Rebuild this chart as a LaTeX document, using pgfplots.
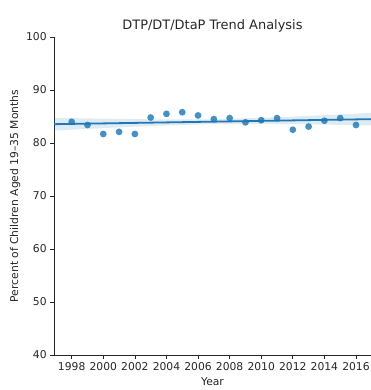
\documentclass[border=0pt]{standalone}
\usepackage{pgfplots}
\pgfplotsset{compat=1.18}
\usepgfplotslibrary{fillbetween}
\usepackage{fontspec}
\setmainfont{DejaVu Sans}
\definecolor{sb}{HTML}{1F77B4}
\begin{document}
\begin{tikzpicture}
\begin{axis}[
  name=ax,
  scale only axis,
  width=317bp, height=318bp,
  xmin=1996.88, xmax=2016.95,
  ymin=40, ymax=100,
  axis lines=left,
  axis line style={-, line width=0.7pt, black!85},
  xtick={1998,2000,...,2016},
  ytick={40,50,...,100},
  tick align=outside,
  tick style={black!85, line width=0.7pt},
  major tick length=3.8bp,
  tick label style={font=\fontsize{10.8}{12}\selectfont, text=black!85},
  /pgf/number format/assume math mode=true,
  x tick label style={/pgf/number format/.cd,set thousands separator={}},
  xlabel={Year},
  ylabel={Percent of Children Aged 19–35 Months},
  label style={font=\fontsize{10.8}{12}\selectfont, text=black!85},
  xlabel style={yshift=0bp},
  ylabel style={yshift=-1bp},
  title={DTP/DT/DtaP Trend Analysis},
  title style={font=\fontsize{13}{15}\selectfont, text=black!85, yshift=-5bp},
  clip=true,
]
\coordinate (sw) at (rel axis cs:0,0);
\coordinate (ne) at (rel axis cs:1,1);
\addplot[name path=upper, draw=none, forget plot] coordinates {
(1996.88,84.75) (2000,84.59) (2003,84.47) (2007,84.48) (2011,84.85) (2014,85.25) (2016.95,85.68)};
\addplot[name path=lower, draw=none, forget plot] coordinates {
(1996.88,82.35) (2000,82.81) (2003,83.21) (2007,83.58) (2011,83.59) (2014,83.47) (2016.95,83.32)};
\addplot[fill=sb, fill opacity=0.15, draw=none] fill between[of=upper and lower];
\addplot[only marks, color=sb, mark=*, mark size=3.4bp, mark options={solid, draw opacity=0, fill=sb, fill opacity=0.82}] coordinates {
(1998,84.0) (1999,83.4) (2000,81.7) (2001,82.1) (2002,81.7) (2003,84.8) (2004,85.5)
(2005,85.8) (2006,85.2) (2007,84.5) (2008,84.7) (2009,83.9) (2010,84.3) (2011,84.7)
(2012,82.5) (2013,83.1) (2014,84.2) (2015,84.7) (2016,83.4)};
\addplot[sb, line width=1.8bp] coordinates {(1996.88,83.55) (2016.95,84.5)};
\end{axis}
\pgfresetboundingbox
\path ([shift={(-54bp,-35bp)}]sw) rectangle ([shift={(0bp,37bp)}]ne);
\end{tikzpicture}
\end{document}
